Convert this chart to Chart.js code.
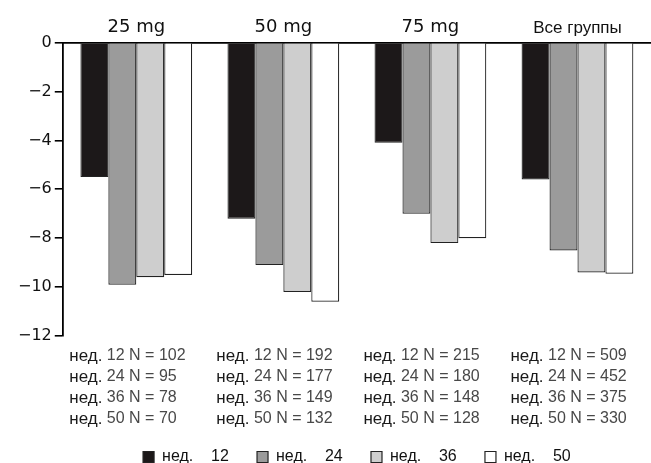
<!DOCTYPE html>
<html><head><meta charset="utf-8">
<script src="https://cdn.jsdelivr.net/npm/chart.js@4"></script>
<style>html,body{margin:0;padding:0;background:#fff;overflow:hidden}#wrap{width:651px;height:463px}</style>
</head><body><div id="wrap"><canvas id="c"></canvas></div>
<script>
const categories = ['25 mg', '50 mg', '75 mg', 'Все группы'];
const weeks = [12, 24, 36, 50];
const week12 = [-5.5, -7.2, -4.1, -5.6];
const week24 = [-9.9, -9.1, -7.0, -8.5];
const week36 = [-9.6, -10.2, -8.2, -9.4];
const week50 = [-9.5, -10.6, -8.0, -9.45];
const n12 = [102, 192, 215, 509];
const n24 = [95, 177, 180, 452];
const n36 = [78, 149, 148, 375];
const n50 = [70, 132, 128, 330];
const weekPrefix = 'нед.';
const yMin = -12, yMax = 0, yStep = 2;

const colors = ['#1c1819', '#9b9b9b', '#cecece', '#ffffff'];
const series = [week12, week24, week36, week50];
const nRows = [n12, n24, n36, n50];

const tablePlugin = {
  id: 'nTable',
  afterDraw(chart) {
    const ctx = chart.ctx;
    const xs = chart.scales.x;
    ctx.save();
    ctx.textBaseline = 'middle';
    ctx.textAlign = 'left';
    categories.forEach((c, i) => {
      const x0 = xs.getPixelForValue(i) - 67;
      nRows.forEach((arr, r) => {
        const y = chart.chartArea.bottom + 20 + r * 21;
        ctx.font = '17px "Liberation Sans Narrow", "Liberation Sans", sans-serif';
        ctx.fillStyle = '#1a1a1a';
        ctx.fillText(weekPrefix, x0, y);
        const w = ctx.measureText(weekPrefix).width;
        ctx.font = '16px "Liberation Sans", sans-serif';
        ctx.fillStyle = '#484848';
        ctx.fillText(' ' + weeks[r] + ' N = ' + arr[i], x0 + w, y);
      });
    });
    ctx.restore();
  }
};

new Chart(document.getElementById('c'), {
  type: 'bar',
  data: {
    labels: categories,
    datasets: series.map((d, i) => ({
      label: weekPrefix + '    ' + weeks[i] + (i < 3 ? '     ' : ''),
      data: d,
      backgroundColor: colors[i],
      borderColor: '#222',
      borderWidth: 1.2,
      xAxisID: 'x',
      yAxisID: 'y',
      categoryPercentage: 0.76,
      barPercentage: 1.0
    }))
  },
  options: {
    responsive: true,
    maintainAspectRatio: false,
    animation: false,
    layout: { padding: { top: 13, left: 15, right: -5, bottom: -12 } },
    plugins: {
      tooltip: { enabled: false },
      legend: {
        position: 'bottom',
        fullSize: false,
        labels: {
          boxWidth: 11, boxHeight: 11, padding: 6, color: '#111',
          font: { family: 'Liberation Sans', size: 16 }
        }
      }
    },
    scales: {
      x: {
        type: 'category',
        position: 'top',
        offset: true,
        grid: { display: false, drawTicks: false },
        border: { display: true, color: '#000', width: 1.8 },
        ticks: {
          padding: 4, color: '#111',
          font: (ctx) => ctx.index === 3 ? { family: 'Liberation Sans', size: 17 } : { family: 'DejaVu Sans', size: 18 }
        }
      },
      xt: {
        type: 'category',
        position: 'bottom',
        labels: categories,
        offset: true,
        grid: { display: false, drawTicks: false },
        border: { display: false },
        ticks: { display: false },
        afterFit(s) { s.height = 107; }
      },
      y: {
        min: yMin, max: yMax,
        ticks: {
          stepSize: yStep, padding: 3, color: '#111',
          font: { family: 'DejaVu Sans', size: 16 },
          callback: (v) => String(v).replace('-', '\u2212')
        },
        grid: { drawOnChartArea: false, drawTicks: true, tickLength: 8, color: '#000', lineWidth: 1.6 },
        border: { color: '#000', width: 1.8 }
      }
    }
  },
  plugins: [tablePlugin]
});
</script></body></html>
